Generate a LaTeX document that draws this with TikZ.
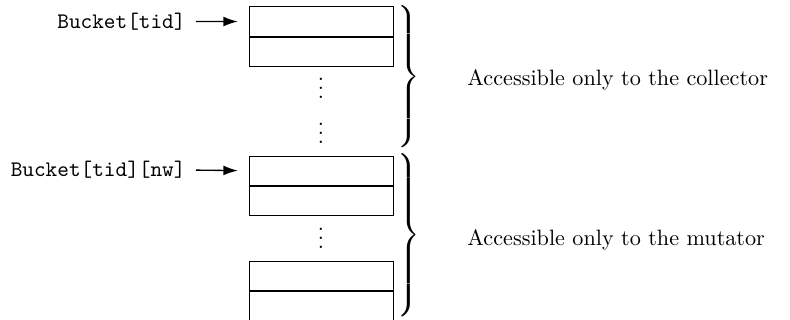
\documentclass[tikz,border=0pt]{standalone}
\usepackage{graphicx}
\usetikzlibrary{arrows.meta}
\newcommand{\mybrace}[1]{\resizebox*{1.15\width}{#1}{$\nulldelimiterspace=0pt\left.\vrule height 30pt depth 30pt width 0pt\right\}$}}
\begin{document}
\begin{tikzpicture}[x=0.4505pt,y=-0.4505pt,
  cell/.style={draw,minimum width=65.3pt,minimum height=13.15pt,inner sep=0pt,anchor=north west},
  lbl/.style={font=\ttfamily,anchor=east,inner sep=0pt},
  ptr/.style={-{Latex[length=6.5pt,width=4.4pt]},semithick,shorten <=4.5pt,shorten >=4.8pt},
  note/.style={anchor=west,inner sep=0pt},
  dts/.style={inner sep=0pt},
  brc/.style={anchor=west,inner sep=0pt}]
\useasboundingbox (0,0) rectangle (790,320);
\node[cell] (b1) at (248.5,6.5) {};
\node[cell] (b2) at (b1.south west) {};
\node[cell] (b3) at (248.5,155.7) {};
\node[cell] (b4) at (b3.south west) {};
\node[cell] (b5) at (248.5,260.7) {};
\node[cell] (b6) at (b5.south west) {};
\node[dts] (d1) at (321,82) {$\vdots$};
\node[dts] (d2) at (321,127) {$\vdots$};
\node[dts] (d3) at (321,232) {$\vdots$};
\node[lbl] (l1) at (186,21.5) {Bucket[tid]};
\node[lbl] (l2) at (186,170) {Bucket[tid][nw]};
\draw[ptr] (l1.east) -- (b1.west);
\draw[ptr] (l2.east) -- (b3.west);
\node[brc] (k1) at (397,79.5) {\mybrace{66.5pt}};
\node[brc] (k2) at (397,238.5) {\mybrace{76.5pt}};
\node[note] (t1) at (467,80) {Accessible only to the collector};
\node[note] (t2) at (467,240) {Accessible only to the mutator};
\end{tikzpicture}
\end{document}
